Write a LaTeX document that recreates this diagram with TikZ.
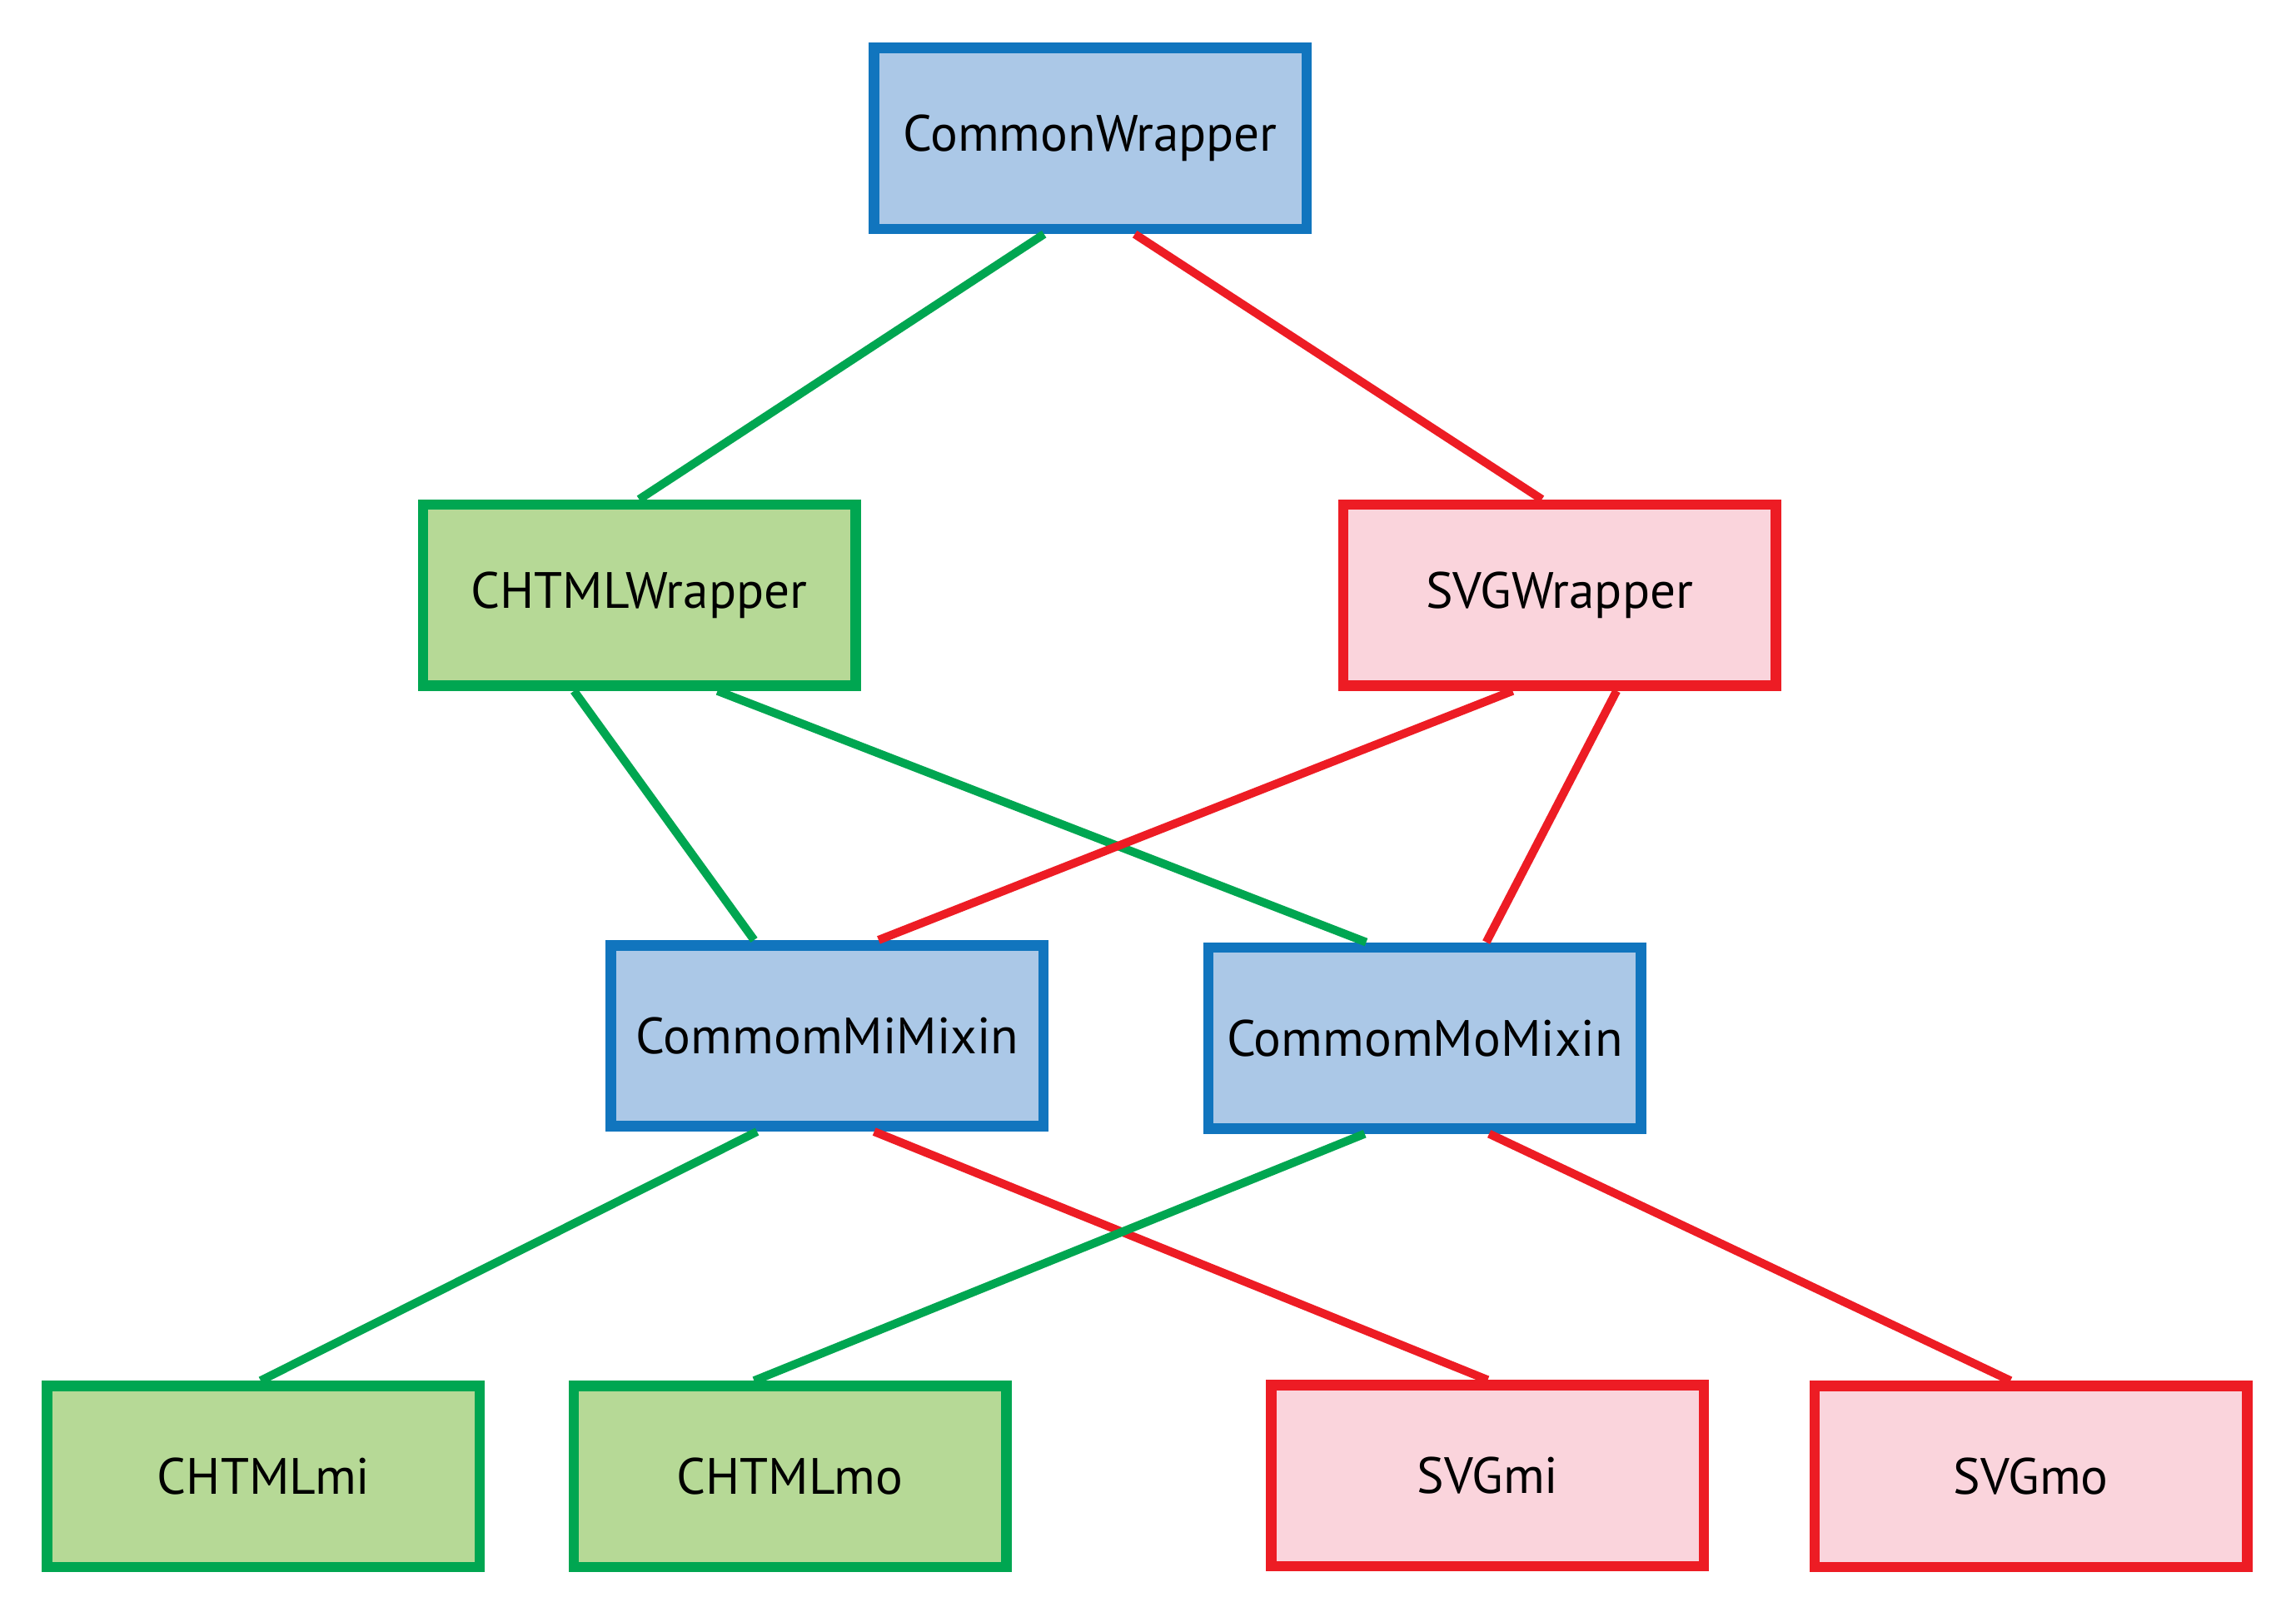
\documentclass[tikz,border=0pt]{standalone}
\usepackage{fontspec}
\setmainfont{PT Sans}
\usepackage{tikz}
\usetikzlibrary{calc}
\definecolor{bluline}{RGB}{17,117,190}
\definecolor{blufill}{RGB}{171,200,231}
\definecolor{grnline}{RGB}{0,166,81}
\definecolor{grnfill}{RGB}{182,217,150}
\definecolor{redline}{RGB}{237,28,36}
\definecolor{redfill}{RGB}{250,212,220}

\begin{document}
\begin{tikzpicture}[
  x=0.35pt,y=-0.35pt,
  every node/.style={font=\fontsize{12.2}{14}\selectfont},
  face/.style={draw,line width=2.5pt,minimum width=103.4pt,minimum height=43.3pt,inner sep=2pt},
  blubox/.style={face,draw=bluline,fill=blufill},
  grnbox/.style={face,draw=grnline,fill=grnfill},
  redbox/.style={face,draw=redline,fill=redfill},
  gspoke/.style={line width=2pt,grnline},
  rspoke/.style={line width=2pt,redline}
]
  \useasboundingbox (0,0) rectangle (1568,1104);
  \node[blubox] (cw)   at (744.5,  94.5) {CommonWrapper};
  \node[grnbox] (chw)  at (436.5, 406.5) {CHTMLWrapper};
  \node[redbox] (svw)  at (1065,  406.5) {SVGWrapper};
  \node[blubox] (mimx) at (565,   707.5) {CommomMiMixin};
  \node[blubox] (momx) at (973,   709)   {CommomMoMixin};
  \node[grnbox] (chmi) at (180,  1008.5) {CHTMLmi};
  \node[grnbox] (chmo) at (539.5,1008.5) {CHTMLmo};
  \node[redbox] (svmi) at (1016, 1008)   {SVGmi};
  \node[redbox] (svmo) at (1387, 1008.5) {SVGmo};

  \draw[gspoke] ($(cw.south)+(-31.5,0)$)  -- (chw.north);
  \draw[rspoke] ($(cw.south)+(30.5,0)$)   -- ($(svw.north)+(-12,0)$);
  \draw[gspoke] ($(chw.south)+(-44.5,0)$) -- ($(mimx.north)+(-50,0)$);
  \draw[gspoke] ($(chw.south)+(53.5,0)$)  -- ($(momx.north)+(-40,0)$);
  \draw[rspoke] ($(svw.south)+(-32,0)$)   -- ($(mimx.north)+(35,0)$);
  \draw[rspoke] ($(svw.south)+(39,0)$)    -- ($(momx.north)+(42,0)$);
  \draw[gspoke] ($(mimx.south)+(-48,0)$)  -- ($(chmi.north)+(-2,0)$);
  \draw[rspoke] ($(mimx.south)+(32,0)$)   -- (svmi.north);
  \draw[gspoke] ($(momx.south)+(-41,0)$)  -- ($(chmo.north)+(-24.5,0)$);
  \draw[rspoke] ($(momx.south)+(44,0)$)   -- ($(svmo.north)+(-14,0)$);
\end{tikzpicture}
\end{document}
